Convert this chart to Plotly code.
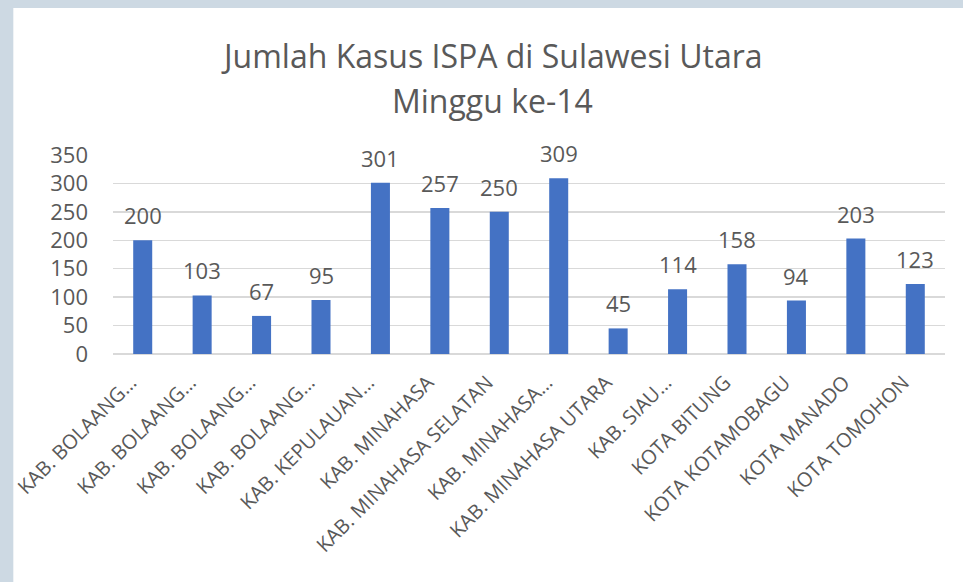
import plotly.graph_objects as go

labels = ["KAB. BOLAANG…", "KAB. BOLAANG…", "KAB. BOLAANG…", "KAB. BOLAANG…",
          "KAB. KEPULAUAN…", "KAB. MINAHASA", "KAB. MINAHASA SELATAN", "KAB. MINAHASA…",
          "KAB. MINAHASA UTARA", "KAB. SIAU…", "KOTA BITUNG", "KOTA KOTAMOBAGU",
          "KOTA MANADO", "KOTA TOMOHON"]
values = [200, 103, 67, 95, 301, 257, 250, 309, 45, 114, 158, 94, 203, 123]
y_ticks = [0, 50, 100, 150, 200, 250, 300, 350]
title_line1 = "Jumlah Kasus ISPA di Sulawesi Utara"
title_line2 = "Minggu ke-14"

FONT = "Open Sans"
TXT = "#595959"
xs = list(range(len(labels)))

fig = go.Figure()
fig.add_trace(go.Bar(x=xs, y=values, marker=dict(color="#4472C4", line=dict(width=0)),
                     width=0.32, hoverinfo="skip"))

annotations = []
for x, v in zip(xs, values):
    annotations.append(dict(x=x, y=v, xref="x", yref="y", text=str(v), showarrow=False,
                            yanchor="middle", yshift=25,
                            font=dict(family=FONT, size=22, color=TXT)))
annotations.append(dict(x=0.456, y=1.5025, xref="paper", yref="paper", text=title_line1,
                        showarrow=False, xanchor="center", yanchor="middle",
                        font=dict(family=FONT, size=32, color=TXT)))
annotations.append(dict(x=0.456, y=1.276, xref="paper", yref="paper", text=title_line2,
                        showarrow=False, xanchor="center", yanchor="middle",
                        font=dict(family=FONT, size=32, color=TXT)))

fig.update_layout(
    width=963, height=582,
    margin=dict(l=110, r=18, t=155, b=228),
    paper_bgcolor="#cdd9e3",
    plot_bgcolor="rgba(0,0,0,0)",
    showlegend=False,
    annotations=annotations,
    shapes=[dict(type="rect", xref="paper", yref="paper", x0=-0.1198, x1=1.2,
                 y0=-1.5, y1=1.7387, fillcolor="white", line=dict(width=0), layer="below")],
    xaxis=dict(tickmode="array", tickvals=xs, ticktext=labels, tickangle=-45,
               range=[-0.5, len(labels) - 0.5], showgrid=False, showline=False,
               zeroline=False, ticks="", ticklabelstandoff=12, ticklabelshift=-12,
               tickfont=dict(family=FONT, size=20, color=TXT)),
    yaxis=dict(range=[0, 350], tickvals=y_ticks, showgrid=True, gridcolor="#d9d9d9",
               gridwidth=1.5, zeroline=True, zerolinecolor="#d9d9d9", zerolinewidth=1.5,
               showline=False, ticks="", ticklabelstandoff=24,
               tickfont=dict(family=FONT, size=22, color=TXT)),
)

fig.write_html("out.html", config={"displayModeBar": False, "staticPlot": True},
               post_script="document.body.style.margin='0';document.body.style.overflow='hidden';")
